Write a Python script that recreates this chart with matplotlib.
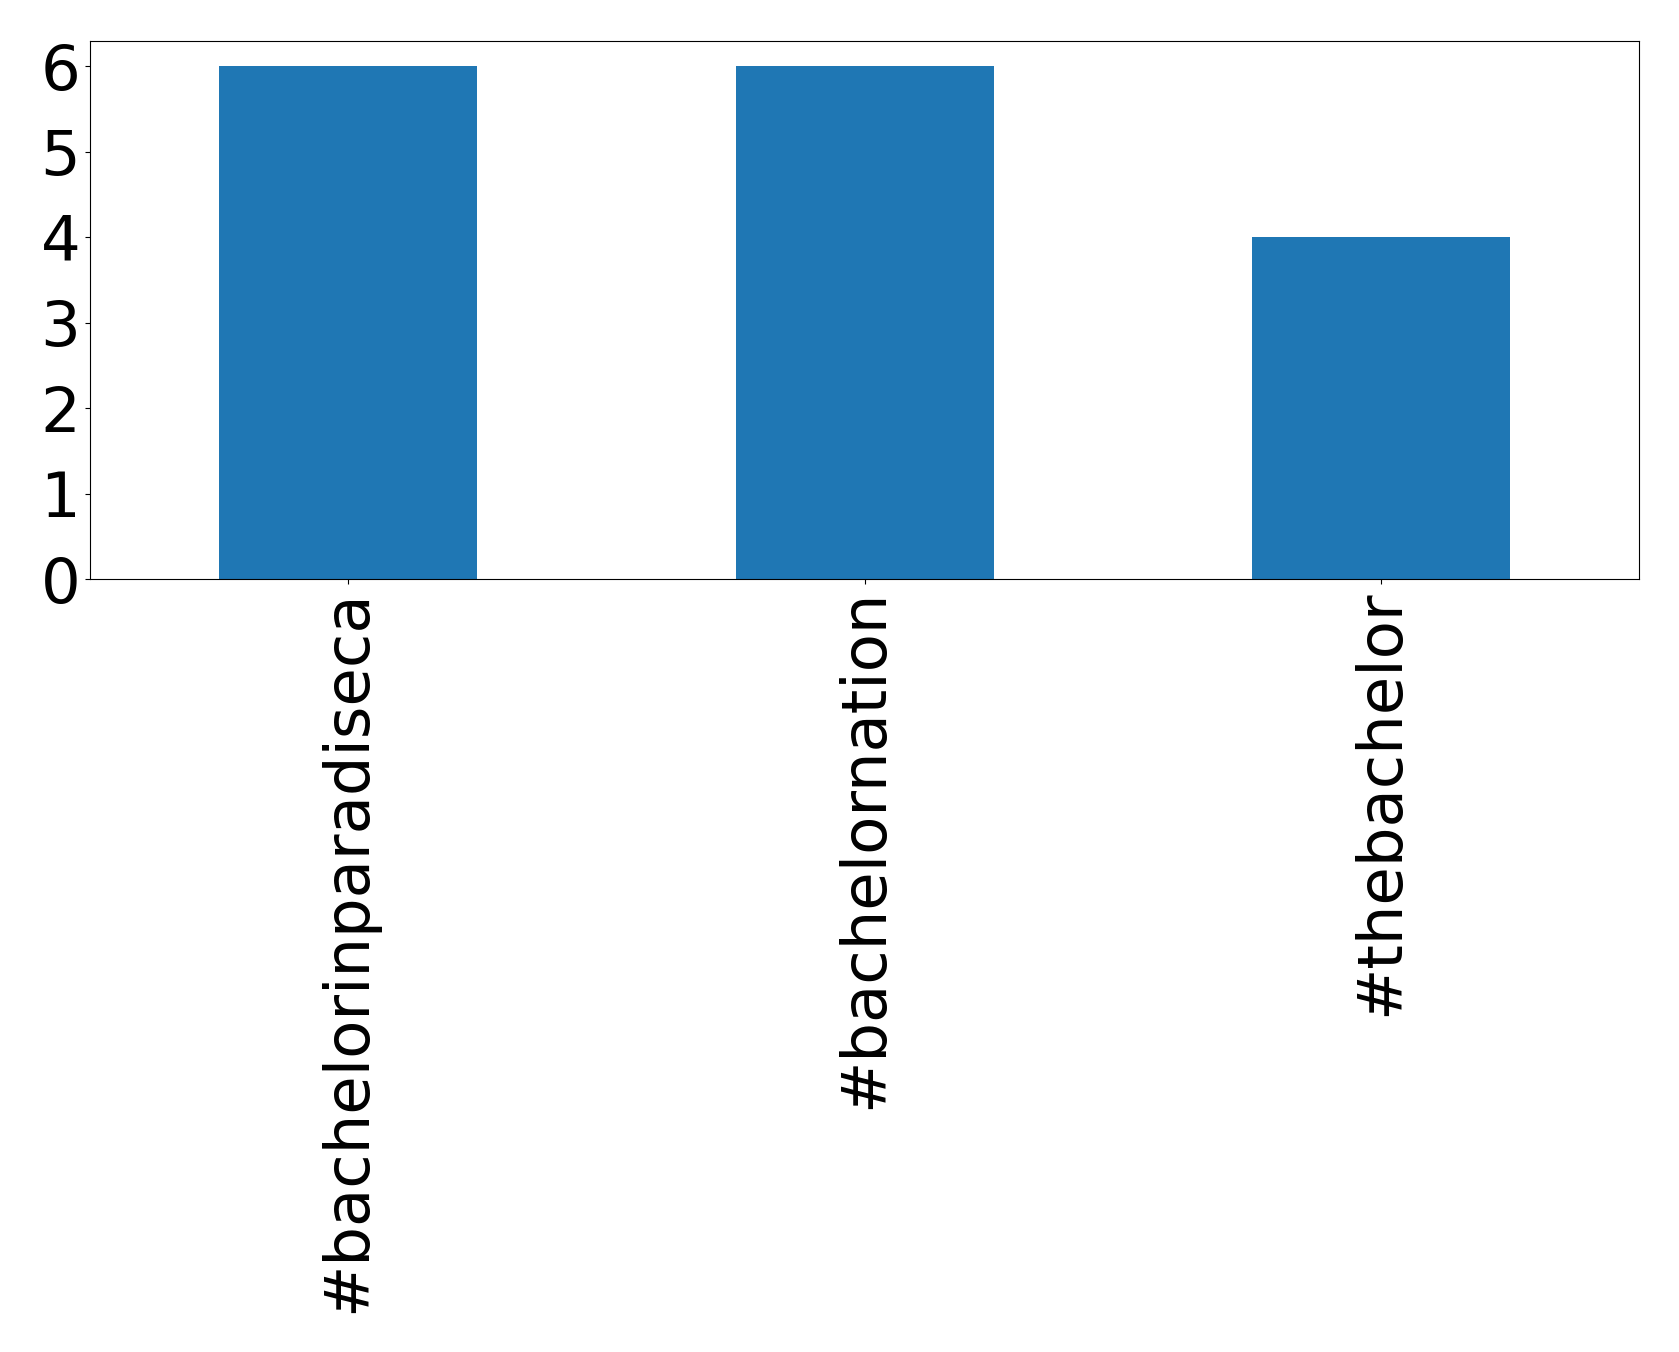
import matplotlib
matplotlib.use("Agg")
import matplotlib.pyplot as plt

categories = ["#bachelorinparadiseca", "#bachelornation", "#thebachelor"]
counts = [6, 6, 4]
yticks = [0, 1, 2, 3, 4, 5, 6]

fig = plt.figure(figsize=(16.79, 13.52), dpi=100)
ax = fig.add_axes([0.0536, 0.5715, 0.9228, 0.3984])
x = list(range(len(categories)))
ax.bar(x, counts, width=0.5, color="#1f77b4", linewidth=0)
ax.set_xlim(-0.5, len(categories) - 0.5)
ax.set_ylim(0, 6.3)
ax.set_yticks(yticks)
ax.set_xticks(x)
ax.set_xticklabels(categories, rotation=90)
ax.tick_params(axis="both", labelsize=45)
fig.savefig("out.png", dpi=100)
